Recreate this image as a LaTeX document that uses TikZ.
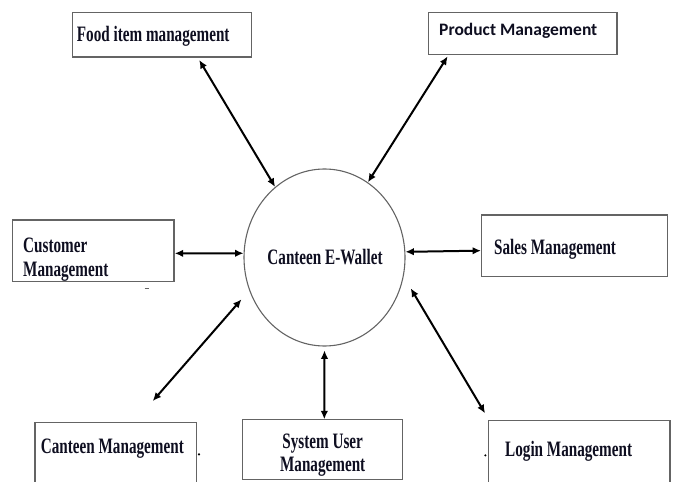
\documentclass[tikz,border=0pt]{standalone}
\usepackage{fontspec}
\usetikzlibrary{arrows.meta,calc,shapes.geometric}
\newfontfamily\lblfont{Liberation Serif}[FakeStretch=0.69]
\newfontfamily\prodfont{Carlito}
\definecolor{boxline}{RGB}{100,100,100}
\definecolor{inktext}{RGB}{14,14,32}
\tikzset{
  modbox/.style={draw=boxline, line width=1.3pt, inner sep=0pt},
  lbl/.style={font=\lblfont\bfseries\fontsize{22}{23}\selectfont, text=inktext, inner sep=0pt, anchor=west},
  biarrow/.style={line width=2pt, black, {Latex[length=8.5pt,width=7.5pt]}-{Latex[length=8.5pt,width=7.5pt]}},
  speck/.style={fill=black, inner sep=0pt, minimum size=2.4pt, circle}
}
\begin{document}
\begin{tikzpicture}[x=1pt,y=-1pt]
\useasboundingbox (0,0) rectangle (676,481);
\clip (0,0) rectangle (676,481);

% central process
\node[ellipse, draw=boxline, line width=1.1pt, minimum width=161pt, minimum height=177pt, inner sep=0pt]
  (wallet) at (324.5,257.5) {};
\node[font=\lblfont\bfseries\fontsize{22}{23}\selectfont, text=inktext, inner sep=0pt]
  (walletlbl) at (325,257) {Canteen E-Wallet};

% module boxes
\node[modbox, minimum width=179pt, minimum height=44.3pt] (food)  at (162.2,34.85) {};
\node[modbox, minimum width=188.7pt, minimum height=41.6pt] (prod) at (522.65,33.5) {};
\node[modbox, minimum width=161.7pt, minimum height=61.7pt] (cust) at (93.15,250.85) {};
\node[modbox, minimum width=186pt, minimum height=61.7pt] (sales) at (574.7,245.85) {};
\node[modbox, minimum width=161.7pt, minimum height=80pt] (canm)  at (115.85,462.7) {};
\node[modbox, minimum width=160pt, minimum height=60.2pt] (sysu)  at (322.7,449.4) {};
\node[modbox, minimum width=181.7pt, minimum height=80pt] (login) at (579.15,460.7) {};

% module labels
\node[lbl] (foodlbl) at (76.7,36) {Food item management};
\node[font=\prodfont\bfseries\fontsize{17.5}{18}\selectfont, text=inktext, inner sep=0pt, anchor=west]
  (prodlbl) at (439,31) {Product Management};
\node[lbl] (custlbl1) at (23,245) {Customer};
\node[lbl] (custlbl2) at (23,272) {Management};
\node[lbl] (saleslbl) at (494,249) {Sales Management};
\node[lbl] (canmlbl) at (40.7,449) {Canteen Management};
\node[font=\lblfont\bfseries\fontsize{22}{23}\selectfont, text=inktext, inner sep=0pt]
  (sysulbl1) at (322.7,444) {System User};
\node[font=\lblfont\bfseries\fontsize{22}{23}\selectfont, text=inktext, inner sep=0pt]
  (sysulbl2) at (322.7,467) {Management};
\node[lbl] (loginlbl) at (505,451) {Login Management};

% data flows between modules and the wallet
\draw[biarrow] ($(food.south)+(37,2.3)$) -- (wallet.125.6);
\draw[biarrow] ($(prod.south west)+(20,1.4)$) -- (wallet.60);
\draw[biarrow] ($(cust.east)+(0,2.5)$) -- (wallet.177);
\draw[biarrow] (wallet.4.8) -- ($(sales.west)+(0,4.8)$);
\draw[biarrow] ($(wallet.south)+(0,3.8)$) -- ($(sysu.north)+(1.6,0.7)$);
\draw[biarrow] ($(canm.north)+(36.9,-21)$) -- ($(wallet.center)+(-83,41.8)$);
\draw[biarrow] ($(wallet.center)+(86.2,30.8)$) -- ($(login.north west)+(-2.6,-6.7)$);

% small stray marks
\draw[line width=1pt, boxline] ($(cust.south east)+(-30,6.3)$) -- ++(4,0);
\node[speck] (dotA) at ($(canm.north east)+(1.6,32.3)$) {};
\node[speck] (dotB) at ($(login.north west)+(-2.3,35.3)$) {};
\end{tikzpicture}
\end{document}
